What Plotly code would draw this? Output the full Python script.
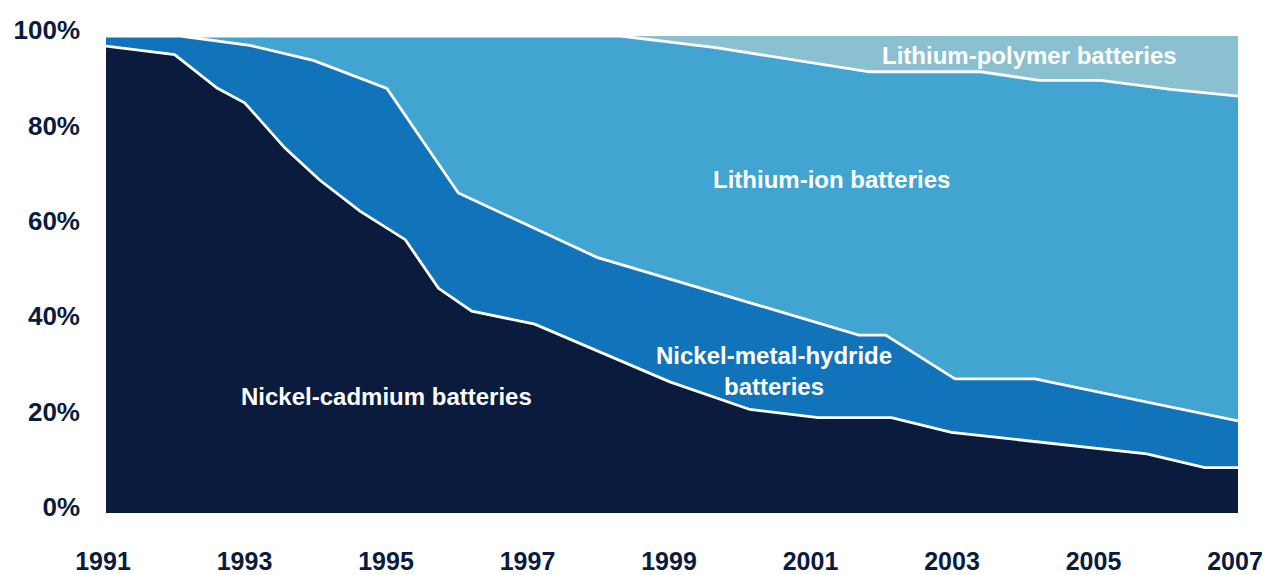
import plotly.graph_objects as go

# Cumulative market share (%) — upper edge of each stacked band
years_nicd = [1991.0, 1991.97, 1992.57, 1992.96, 1993.53, 1994.02, 1994.59, 1995.23, 1995.70,
              1996.17, 1997.06, 1998.97, 2000.10, 2001.07, 2002.10, 2002.95, 2005.71, 2006.53, 2007.0]
nicd_top = [97.9, 96.1, 89.1, 86.0, 76.5, 69.8, 63.3, 57.3, 47.1,
            42.3, 39.6, 27.5, 21.7, 20.0, 20.0, 16.9, 12.4, 9.5, 9.5]

years_nimh = [1991.0, 1992.05, 1993.03, 1993.93, 1994.97, 1995.98, 1997.94, 2001.64, 2002.02,
              2003.0, 2004.13, 2007.0]
nimh_top = [100, 100, 98.05, 94.9, 89.0, 67.1, 53.6, 37.3, 37.3, 28.1, 28.1, 19.3]

years_liion = [1991.0, 1998.27, 1999.62, 2001.79, 2003.36, 2004.19, 2005.06, 2006.05, 2007.0]
liion_top = [100, 100, 97.55, 92.5, 92.5, 90.7, 90.7, 88.8, 87.4]

years_lipoly = [1991.0, 2007.0]
lipoly_top = [100, 100]

x_ticks = [1991, 1993, 1995, 1997, 1999, 2001, 2003, 2005, 2007]
y_ticks = [0, 20, 40, 60, 80, 100]
y_tick_text = ["0%", "20%", "40%", "60%", "80%", "100%"]

# Band labels: (text, year, share %)
band_labels = [
    ("Lithium-polymer batteries", 2004.06, 96.0),
    ("Lithium-ion batteries", 2001.25, 70.0),
    ("Nickel-metal-hydride<br>batteries", 2000.44, 29.7),
    ("Nickel-cadmium batteries", 1994.97, 24.5),
]

NAVY = "#0a1b3d"
NIMH = "#1174bb"
LIION = "#42a4d0"
LIPOLY = "#8bc0d0"
FONT = "Liberation Sans, Arial, sans-serif"

fig = go.Figure()

# Draw from the top band downwards so each lower band covers the one above it
layers = [
    (years_lipoly, lipoly_top, LIPOLY, 0),
    (years_liion, liion_top, LIION, 2.8),
    (years_nimh, nimh_top, NIMH, 2.8),
    (years_nicd, nicd_top, NAVY, 2.8),
]
for xs, ys, color, lw in layers:
    fig.add_trace(go.Scatter(
        x=xs, y=ys, mode="lines", fill="tozeroy", fillcolor=color,
        line=dict(color="white", width=lw) if lw else dict(width=0, color=color),
        hoverinfo="skip", showlegend=False,
    ))

for text, xv, yv in band_labels:
    fig.add_annotation(
        x=xv, y=yv, text=f"<b>{text}</b>", showarrow=False,
        font=dict(family=FONT, size=24, color="white"),
        align="center", xanchor="center", yanchor="middle",
    )

fig.update_layout(
    width=1263, height=575,
    margin=dict(l=106, r=25, t=36, b=62),
    paper_bgcolor="white", plot_bgcolor="white",
    font=dict(family=FONT, color=NAVY),
    xaxis=dict(
        range=[1991, 2007], showgrid=False, zeroline=False, showline=False,
        tickmode="array", tickvals=x_ticks, ticktext=[f"<b>{v}</b>" for v in x_ticks],
        tickfont=dict(size=25, color=NAVY), ticks="", ticklabelstandoff=31,
        ticklabelshift=-3, automargin=False,
    ),
    yaxis=dict(
        range=[0, 100], showgrid=False, zeroline=False, showline=False,
        tickmode="array", tickvals=y_ticks, ticktext=[f"<b>{t}</b>" for t in y_tick_text],
        tickfont=dict(size=26, color=NAVY), ticks="", ticklabelstandoff=25,
        ticklabelshift=-6, automargin=False,
    ),
)

fig.write_html("out.html")
